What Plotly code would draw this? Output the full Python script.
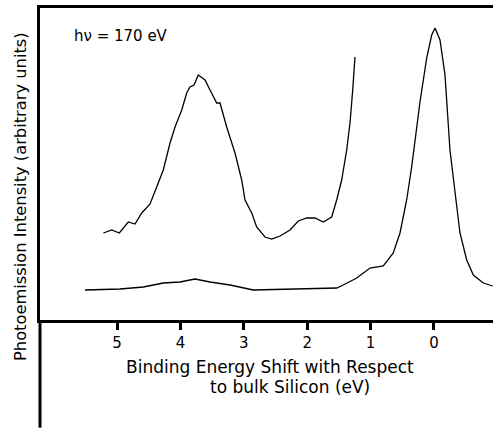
import plotly.graph_objects as go

# Upper (magnified) trace: binding energy shift (eV) and intensity (arb. units)
upper_energy = [5.216, 5.084, 4.964, 4.822, 4.716, 4.610, 4.479, 4.374, 4.270, 4.164,
                4.085, 3.979, 3.901, 3.849, 3.785, 3.718, 3.612, 3.533, 3.427, 3.375,
                3.270, 3.139, 3.033, 2.981, 2.930, 2.875, 2.797, 2.666, 2.560, 2.429,
                2.271, 2.140, 2.008, 1.877, 1.746, 1.614, 1.535, 1.456, 1.377, 1.325,
                1.282, 1.246]
upper_intensity = [85, 88, 85, 96, 94, 105, 114, 131, 148, 175,
                   191, 208, 225, 231, 233, 243, 238, 228, 215, 215,
                   191, 165, 138, 118, 111, 105, 91, 81, 79, 82,
                   88, 97, 100, 100, 96, 101, 118, 138, 168, 195,
                   228, 261]

# Lower (full-scale) trace
lower_energy = [5.505, 4.953, 4.585, 4.270, 4.006, 3.770, 3.533, 3.218, 2.850, 2.166,
                1.535, 1.431, 1.219, 1.009, 0.800, 0.642, 0.536, 0.431, 0.352, 0.221,
                0.115, 0.036, -0.016, -0.095, -0.174, -0.252, -0.331, -0.410, -0.516,
                -0.620, -0.778, -0.926]
lower_intensity = [28, 29, 31, 35, 36, 39, 36, 33, 28, 29,
                   30, 33, 40, 50, 52, 65, 85, 118, 151, 216,
                   260, 283, 290, 278, 243, 168, 125, 85, 58,
                   43, 35, 32]

tick_values = [5, 4, 3, 2, 1, 0]
tick_labels = ["5", "4", "3", "2", "1", "0"]

FONT = "DejaVu Sans, Verdana, sans-serif"

fig = go.Figure()
fig.add_trace(go.Scatter(x=upper_energy, y=upper_intensity, mode="lines",
                         line=dict(color="black", width=1.3), hoverinfo="skip"))
fig.add_trace(go.Scatter(x=lower_energy, y=lower_intensity, mode="lines",
                         line=dict(color="black", width=1.3), hoverinfo="skip"))

fig.update_layout(
    width=493, height=428,
    margin=dict(l=40, r=0, t=8, b=108),
    paper_bgcolor="white", plot_bgcolor="white",
    showlegend=False,
    font=dict(family=FONT, color="black", size=15),
    xaxis=dict(range=[6.215, -0.931], showgrid=False, zeroline=False,
               showline=True, linewidth=3, linecolor="black", mirror=True,
               ticks="outside", ticklen=7, tickwidth=3, tickcolor="black",
               tickvals=tick_values, ticktext=tick_labels,
               tickfont=dict(size=15, family=FONT, color="black")),
    yaxis=dict(range=[-2, 310], showgrid=False, zeroline=False,
               showline=True, linewidth=3, linecolor="black",
               showticklabels=False, ticks=""),
    shapes=[dict(type="line", xref="paper", yref="paper",
                 x0=0, x1=0, y0=0, y1=-0.345,
                 line=dict(color="black", width=3))],
    annotations=[
        dict(text="hν = 170 eV", xref="paper", yref="paper",
             x=(72 - 40) / 453, y=1 - (36 - 8) / 312, xanchor="left", yanchor="middle",
             showarrow=False, font=dict(size=15, family=FONT, color="black")),
        dict(text="Binding Energy Shift with Respect", xref="paper", yref="paper",
             x=(270 - 40) / 453, y=-(367 - 320) / 312, xanchor="center", yanchor="middle",
             showarrow=False, font=dict(size=17, family=FONT, color="black")),
        dict(text="to bulk Silicon (eV)", xref="paper", yref="paper",
             x=(290 - 40) / 453, y=-(387 - 320) / 312, xanchor="center", yanchor="middle",
             showarrow=False, font=dict(size=17, family=FONT, color="black")),
        dict(text="Photoemission Intensity (arbitrary units)", xref="paper", yref="paper",
             x=(20 - 40) / 453, y=1 - (197 - 8) / 312, xanchor="center", yanchor="middle",
             textangle=-90, showarrow=False,
             font=dict(size=16.3, family=FONT, color="black")),
    ],
)

fig.write_html("out.html")
